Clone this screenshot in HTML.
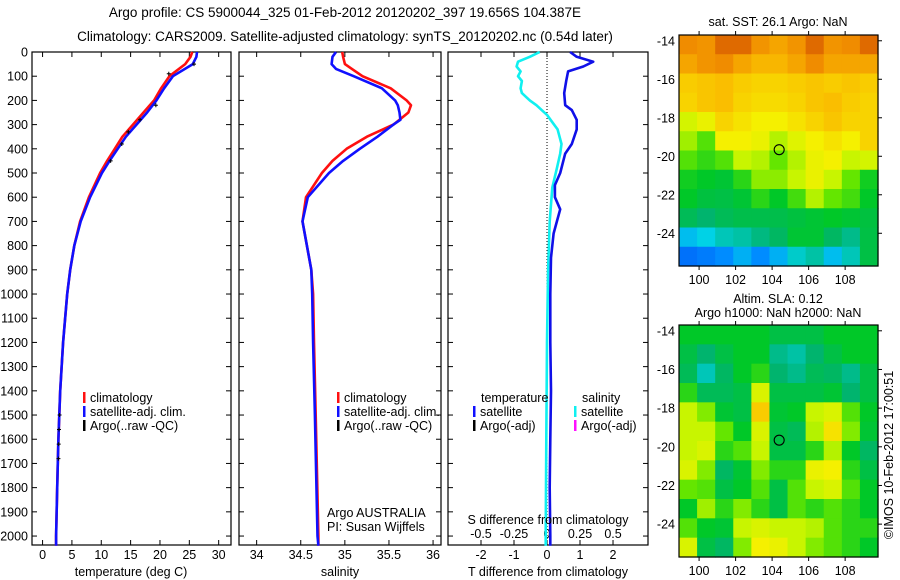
<!DOCTYPE html>
<html><head><meta charset="utf-8"><title>Argo profile</title>
<style>
html,body{margin:0;padding:0;background:#fff;}
svg{display:block;font-family:"Liberation Sans",sans-serif;}
text{font-size:12.5px;fill:#000;}
</style></head>
<body>
<svg id="chart" width="900" height="580" viewBox="0 0 900 580" xmlns="http://www.w3.org/2000/svg">
<text x="345" y="17" text-anchor="middle" style="font-size:13.5px">Argo profile: CS 5900044_325 01-Feb-2012 20120202_397 19.656S 104.387E</text>
<text x="345" y="41" text-anchor="middle" style="font-size:13.5px">Climatology: CARS2009. Satellite-adjusted climatology: synTS_20120202.nc (0.54d later)</text>
</svg>
<script>
// ---------- data ----------
const depthTicks = [0,100,200,300,400,500,600,700,800,900,1000,1100,1200,1300,1400,1500,1600,1700,1800,1900,2000];
const tempTicks = [0,5,10,15,20,25,30];
const salTicks = [34,34.5,35,35.5,36];
const salTickLabels = ['34','34.5','35','35.5','36'];
const diffTTicks = [-2,-1,0,1,2];
const diffSTicks = [-0.5,-0.25,0,0.25,0.5];
const diffSTickLabels = ['-0.5','-0.25','0','0.25','0.5'];

const tDepth = [0,20,50,100,150,200,250,300,350,400,450,500,600,700,800,900,1000,1200,1400,1600,1800,2000,2040];
const tClim  = [25.5,25.2,24.3,21.6,20.2,19.0,17.2,15.4,13.6,12.3,11.0,9.8,7.9,6.4,5.4,4.7,4.2,3.5,3.0,2.7,2.5,2.3,2.3];
const tSat   = [26.3,26.2,25.6,22.2,20.7,19.4,17.8,16.0,14.2,12.8,11.4,10.1,8.1,6.5,5.4,4.7,4.2,3.5,3.0,2.7,2.5,2.3,2.3];
const argoDepth = [50,90,220,280,330,380,450,1500,1560,1620,1680];
const argoT     = [25.8,21.5,19.3,16.6,14.6,13.5,11.6,2.9,2.8,2.75,2.7];

const sDepth = [0,20,50,70,100,150,200,220,250,280,300,350,400,450,500,600,700,800,900,1000,1200,1500,2000,2040];
const sClim  = [34.97,34.98,35.0,35.08,35.2,35.52,35.7,35.75,35.72,35.62,35.55,35.25,35.02,34.86,34.74,34.56,34.52,34.57,34.62,34.64,34.65,34.67,34.7,34.7];
const sSat   = [34.9,34.86,34.85,34.9,35.1,35.42,35.57,35.6,35.62,35.63,35.55,35.37,35.17,34.98,34.82,34.58,34.52,34.57,34.62,34.63,34.64,34.66,34.69,34.7];

const dDepth = [0,20,40,60,80,120,170,220,240,280,320,380,420,500,550,600,650,700,750,850,1000,1200,1400,1600,1800,2000,2040];
const dTemp  = [0.7,0.9,1.4,1.1,0.64,0.58,0.52,0.55,0.75,0.9,0.9,0.75,0.55,0.4,0.24,0.24,0.4,0.3,0.2,0.12,0.1,0.1,0.12,0.1,0.08,0.1,0.1];
const dSDepth= [0,20,40,60,80,100,120,150,170,200,220,260,290,320,380,420,480,560,700,900,1200,1600,2000,2040];
const dSal   = [-0.055,-0.13,-0.22,-0.23,-0.2,-0.22,-0.19,-0.2,-0.19,-0.13,-0.08,0,0.04,0.08,0.11,0.1,0.075,0.04,0.02,0.008,0,-0.005,-0.01,-0.01];

const lonTicks = [100,102,104,106,108];
const latTicks = [-14,-16,-18,-20,-22,-24];
const argoLon = 104.387, argoLat = -19.656;
const sstGrid = [
[.93,.92,.95,.95,.92,.9,.92,.95,.92,.93,.95],
[.9,.92,.93,.9,.88,.88,.9,.93,.9,.9,.9],
[.85,.86,.87,.85,.84,.84,.85,.86,.85,.86,.85],
[.84,.86,.87,.84,.83,.83,.84,.86,.87,.85,.84],
[.74,.78,.84,.82,.8,.8,.82,.84,.86,.84,.84],
[.68,.6,.8,.8,.78,.7,.76,.8,.82,.8,.84],
[.6,.56,.6,.72,.7,.62,.7,.78,.8,.72,.74],
[.52,.5,.48,.55,.66,.66,.72,.78,.72,.62,.52],
[.5,.46,.45,.48,.55,.5,.58,.7,.62,.58,.5],
[.42,.38,.42,.44,.44,.44,.46,.48,.5,.48,.46],
[.22,.25,.3,.32,.36,.4,.48,.48,.4,.35,.45],
[.1,.12,.15,.2,.15,.2,.28,.32,.22,.3,.45]];
const slaGrid = [
[.5,.5,.5,.5,.5,.45,.45,.45,.5,.5,.5],
[.45,.38,.45,.5,.5,.35,.32,.38,.45,.5,.5],
[.42,.3,.4,.5,.55,.38,.35,.42,.4,.35,.45],
[.55,.42,.42,.45,.75,.45,.45,.45,.48,.38,.45],
[.72,.65,.48,.45,.85,.48,.5,.72,.75,.6,.5],
[.72,.72,.62,.5,.75,.45,.42,.7,.82,.65,.48],
[.72,.75,.55,.6,.72,.45,.45,.55,.7,.5,.4],
[.75,.65,.4,.48,.65,.55,.55,.78,.8,.55,.45],
[.62,.6,.45,.5,.6,.45,.6,.72,.75,.6,.5],
[.5,.68,.55,.65,.55,.45,.6,.55,.6,.55,.5],
[.6,.5,.48,.72,.75,.72,.72,.7,.6,.55,.55],
[.75,.45,.4,.65,.8,.78,.72,.65,.6,.55,.5]];

// ---------- helpers ----------
const svg = document.getElementById('chart');
const NS = 'http://www.w3.org/2000/svg';
function mk(tag, attrs, parent){const e=document.createElementNS(NS,tag);for(const k in attrs)e.setAttribute(k,attrs[k]);(parent||svg).appendChild(e);return e;}
function txt(s,x,y,anchor,parent){const e=mk('text',{x:x,y:y,'text-anchor':anchor||'start'},parent);e.textContent=s;return e;}

const TOP=52, BOT=545;
const yD = d => TOP + (d/2037)*(BOT-TOP);
const P1={l:32,r:231,min:-1.8,max:32.1};
const P2={l:239,r:441,min:33.8,max:36.09};
const P3={l:448,r:648,min:-3,max:3.06};
const xS = (p,v) => p.l + (v-p.min)/(p.max-p.min)*(p.r-p.l);
const xSd = v => xS(P3, v*4);

function frame(p,name){
  const r=mk('rect',{x:p.l,y:TOP,width:p.r-p.l,height:BOT-TOP,fill:'none',stroke:'#000','stroke-width':1.2});
  
  
  depthTicks.forEach(d=>{
    const y=yD(d);
    mk('line',{x1:p.l,x2:p.l+5,y1:y,y2:y,stroke:'#000'});
    mk('line',{x1:p.r,x2:p.r-5,y1:y,y2:y,stroke:'#000'});
  });
}
function polyline(p,xs,ds,color,w,name,fx){
  const pts=ds.map((d,i)=>(fx?fx(xs[i]):xS(p,xs[i])).toFixed(1)+','+yD(d).toFixed(1)).join(' ');
  const e=mk('polyline',{points:pts,fill:'none',stroke:color,'stroke-width':w,'stroke-linejoin':'round'});
  
  
  return e;
}

// ---------- panel 1 ----------
frame(P1,'temperature-panel-frame');
depthTicks.forEach(d=>{
  const t=txt(String(d),28,yD(d)+4.5,'end');
  
  
});
tempTicks.forEach(v=>{
  const x=xS(P1,v);
  mk('line',{x1:x,x2:x,y1:BOT,y2:BOT-5,stroke:'#000'});
  mk('line',{x1:x,x2:x,y1:TOP,y2:TOP+5,stroke:'#000'});
  const t=txt(String(v),x,559,'middle');
  
  
});
const xt1=txt('temperature (deg C)',131,576,'middle');


polyline(P1,tClim,tDepth,'#ff1010',2.6,'temperature-climatology-line');
polyline(P1,tSat,tDepth,'#1010ff',2.6,'temperature-satellite-line');
argoDepth.forEach((d,i)=>{
  const x=xS(P1,argoT[i]),y=yD(d);
  const m=mk('path',{d:`M${x-2} ${y}h4M${x} ${y-2}v4`,stroke:'#000','stroke-width':1});
  
  
});
function legend(x,y,color,label,name){
  const g=mk('g',{});
  
  
  mk('rect',{x:x,y:y-10,width:2.5,height:11,fill:color},g);
  txt(label,x+7,y,'start',g);
}
legend(83,402,'#ff1010','climatology','legend-climatology');
legend(83,416,'#1010ff','satellite-adj. clim.','legend-satellite-adj');
legend(83,430,'#000','Argo(..raw -QC)','legend-argo');

// ---------- panel 2 ----------
frame(P2,'salinity-panel-frame');
salTicks.forEach((v,i)=>{
  const x=xS(P2,v);
  mk('line',{x1:x,x2:x,y1:BOT,y2:BOT-5,stroke:'#000'});
  mk('line',{x1:x,x2:x,y1:TOP,y2:TOP+5,stroke:'#000'});
  const t=txt(salTickLabels[i],x,559,'middle');
  
  
});
const xt2=txt('salinity',340,576,'middle');


polyline(P2,sClim,sDepth,'#ff1010',2.6,'salinity-climatology-line');
polyline(P2,sSat,sDepth,'#1010ff',2.6,'salinity-satellite-line');
legend(337,402,'#ff1010','climatology','legend-sal-climatology');
legend(337,416,'#1010ff','satellite-adj. clim.','legend-sal-satellite-adj');
legend(337,430,'#000','Argo(..raw -QC)','legend-sal-argo');
const ag=txt('Argo AUSTRALIA',327,517,'start');


const pi=txt('PI: Susan Wijffels',327,531,'start');



// ---------- panel 3 ----------
frame(P3,'difference-panel-frame');
diffTTicks.forEach(v=>{
  const x=xS(P3,v);
  mk('line',{x1:x,x2:x,y1:BOT,y2:BOT-5,stroke:'#000'});
  const t=txt(String(v),x,559,'middle');
  
  
});
diffSTicks.forEach((v,i)=>{
  const x=xSd(v);
  mk('line',{x1:x,x2:x,y1:TOP,y2:TOP+5,stroke:'#000'});
  const t=txt(diffSTickLabels[i],x,538,'middle');
  
  
});
const zl=mk('line',{x1:xS(P3,0),x2:xS(P3,0),y1:TOP,y2:BOT,stroke:'#000','stroke-dasharray':'1,2'});


polyline(P3,dSal,dSDepth,'#10f0f0',2.6,'salinity-difference-line',xSd);
polyline(P3,dTemp,dDepth,'#1010e8',2.6,'temperature-difference-line');
const st=txt('S difference from climatology',548,524,'middle');


const tt=txt('T difference from climatology',548,576,'middle');


const lt=txt('temperature',481,402,'start');


const ls=txt('salinity',582,402,'start');


legend(473,416,'#1010ff','satellite','legend-temp-satellite');
legend(473,430,'#000','Argo(-adj)','legend-temp-argo');
legend(574,416,'#10f0f0','satellite','legend-sal-diff-satellite');
legend(574,430,'#ff10ff','Argo(-adj)','legend-sal-diff-argo');

// ---------- maps ----------
const stops=[[0,[0,60,240]],[0.15,[0,140,255]],[0.25,[0,210,230]],[0.38,[0,180,110]],[0.5,[0,200,40]],[0.62,[100,230,0]],[0.72,[200,245,0]],[0.8,[245,240,0]],[0.87,[250,190,0]],[0.93,[240,140,0]],[1,[180,20,0]]];
function cmap(v){
  for(let i=1;i<stops.length;i++){if(v<=stops[i][0]){const a=stops[i-1],b=stops[i];const t=(v-a[0])/(b[0]-a[0]);const c=a[1].map((q,k)=>Math.round(q+(b[1][k]-q)*t));return `rgb(${c})`;}}
  return 'rgb(180,20,0)';
}
function drawMap(M,grid,name){
  const lonMin=98.9,lonMax=109.8,latTop=-13.7,latBot=-25.7;
  const xL=v=>M.l+(v-lonMin)/(lonMax-lonMin)*(M.r-M.l);
  const yL=v=>M.t+(v-latTop)/(latBot-latTop)*(M.b-M.t);
  const rows=grid.length, cols=grid[0].length;
  const cw=(M.r-M.l)/cols, ch=(M.b-M.t)/rows;
  grid.forEach((row,r)=>row.forEach((v,c)=>{
    const cell=mk('rect',{x:(M.l+c*cw).toFixed(2),y:(M.t+r*ch).toFixed(2),width:(cw+0.6).toFixed(2),height:(ch+0.6).toFixed(2),fill:cmap(v)});
    
    
  }));
  const fr=mk('rect',{x:M.l,y:M.t,width:M.r-M.l,height:M.b-M.t,fill:'none',stroke:'#000','stroke-width':1.2});
  
  
  lonTicks.forEach(v=>{
    const x=xL(v);
    mk('line',{x1:x,x2:x,y1:M.b,y2:M.b+4,stroke:'#000'});
    mk('line',{x1:x,x2:x,y1:M.t,y2:M.t-4,stroke:'#000'});
    const t=txt(String(v),x,M.b+18,'middle');
    
    
  });
  latTicks.forEach(v=>{
    const y=yL(v);
    mk('line',{x1:M.r,x2:M.r+4,y1:y,y2:y,stroke:'#000'});
    const t=txt(String(v),M.l-4,y+4.5,'end');
    
    
  });
  const c=mk('circle',{cx:xL(argoLon),cy:yL(argoLat),r:5,fill:'none',stroke:'#000','stroke-width':1.1});
  
  
}
drawMap({l:679,r:878,t:35,b:266},sstGrid,'sst-map');
drawMap({l:679,r:878,t:325,b:557},slaGrid,'sla-map');
const m1=txt('sat. SST: 26.1 Argo: NaN',778,26,'middle');


const m2=txt('Altim. SLA: 0.12',778,303,'middle');


const m3=txt('Argo h1000: NaN h2000: NaN',778,317,'middle');


const cr=txt('©IMOS 10-Feb-2012 17:00:51',0,0,'middle');
cr.setAttribute('transform','translate(893,455) rotate(-90)');


</script>
</body></html>
